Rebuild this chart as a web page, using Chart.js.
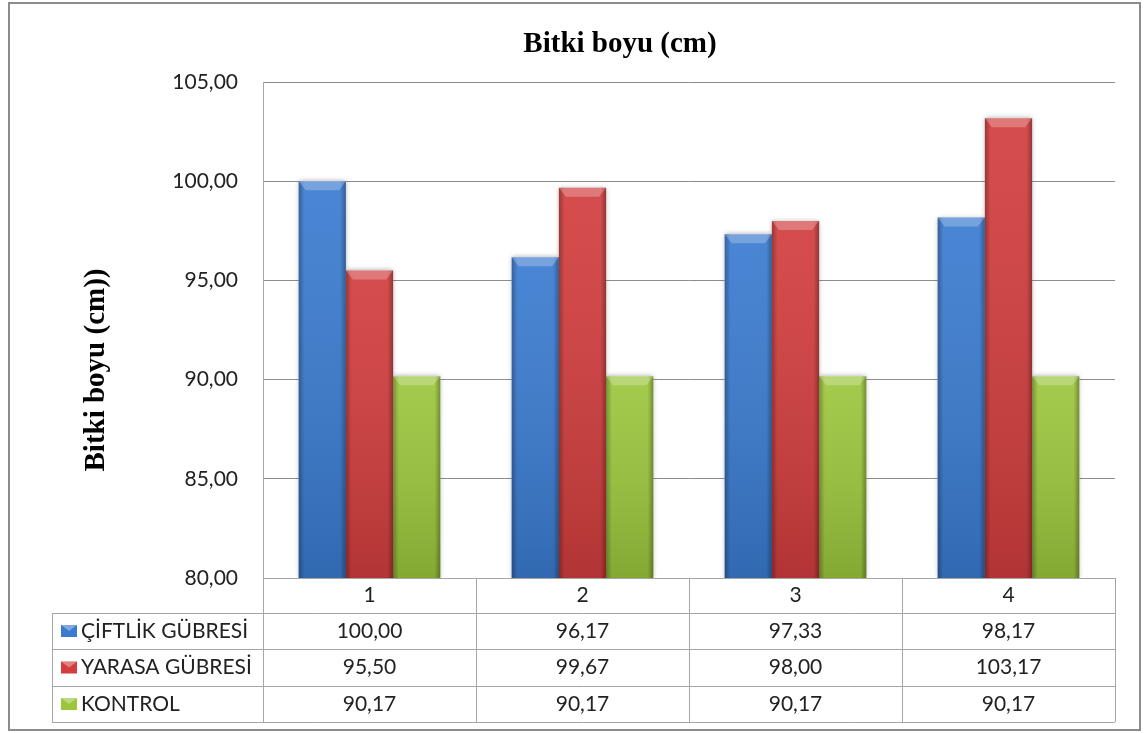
<!DOCTYPE html>
<html>
<head>
<meta charset="utf-8">
<script src="https://cdn.jsdelivr.net/npm/chart.js@4"></script>
<style>
  body { margin: 0; background: #fff; }
  #wrap { width: 1148px; height: 733px; }
</style>
</head>
<body>
<div id="wrap"><canvas id="myPlot" width="1148" height="733"></canvas></div>
<script>
const categories = ["1", "2", "3", "4"];
const seriesNames = ["ÇİFTLİK GÜBRESİ", "YARASA GÜBRESİ", "KONTROL"];
const ciftlik = [100.00, 96.17, 97.33, 98.17];
const yarasa = [95.50, 99.67, 98.00, 103.17];
const kontrol = [90.17, 90.17, 90.17, 90.17];
const yTicks = [80, 85, 90, 95, 100, 105];
const barColors = ["#3a7bd0", "#d23d3d", "#9bc63c"];

const chartTitle = "Bitki boyu (cm)";
const axisTitle = "Bitki boyu (cm))";

function fmt(v) {
  return v.toFixed(2).replace(".", ",");
}

function clipArea(ctx, area) {
  ctx.beginPath();
  ctx.rect(area.left - 10, area.top - 10, area.right - area.left + 20, area.bottom - area.top + 10);
  ctx.clip();
}

// bevel + shading on top of the flat bars
const bevelBars = {
  id: "bevelBars",
  beforeDatasetsDraw(chart) {
    const ctx = chart.ctx;
    const area = chart.chartArea;
    ctx.save();
    clipArea(ctx, area);
    chart.data.datasets.forEach((ds, i) => {
      chart.getDatasetMeta(i).data.forEach(bar => {
        const l = bar.x - bar.width / 2;
        const b = Math.min(bar.base, area.bottom);
        ctx.shadowColor = "rgba(0,0,0,0.35)";
        ctx.shadowBlur = 5;
        ctx.fillStyle = "#fff";
        ctx.fillRect(l, bar.y, bar.width, b - bar.y);
      });
    });
    ctx.restore();
  },
  afterDatasetsDraw(chart) {
    const ctx = chart.ctx;
    const area = chart.chartArea;
    ctx.save();
    clipArea(ctx, area);
    chart.data.datasets.forEach((ds, i) => {
      chart.getDatasetMeta(i).data.forEach(bar => {
        const l = bar.x - bar.width / 2;
        const r = bar.x + bar.width / 2;
        const t = bar.y;
        const b = Math.min(bar.base, area.bottom);
        let g = ctx.createLinearGradient(0, t, 0, b);
        g.addColorStop(0, "rgba(255,255,255,0.08)");
        g.addColorStop(1, "rgba(0,0,0,0.15)");
        ctx.fillStyle = g;
        ctx.fillRect(l, t, r - l, b - t);
        g = ctx.createLinearGradient(l, 0, r, 0);
        g.addColorStop(0, "rgba(0,0,0,0.28)");
        g.addColorStop(0.12, "rgba(0,0,0,0)");
        g.addColorStop(0.88, "rgba(0,0,0,0)");
        g.addColorStop(1, "rgba(0,0,0,0.30)");
        ctx.fillStyle = g;
        ctx.fillRect(l, t, r - l, b - t);
        // top bevel
        ctx.beginPath();
        ctx.moveTo(l, t);
        ctx.lineTo(r, t);
        ctx.lineTo(r - 7, t + 9);
        ctx.lineTo(l + 7, t + 9);
        ctx.closePath();
        ctx.fillStyle = "rgba(255,255,255,0.25)";
        ctx.fill();
      });
    });
    ctx.restore();
  }
};

// titles, frame and the data table under the plot
const frameAndTable = {
  id: "frameAndTable",
  afterDraw(chart) {
    const ctx = chart.ctx;
    const x = chart.scales.x;
    const area = chart.chartArea;
    ctx.save();

    ctx.strokeStyle = "#8c8c8c";
    ctx.lineWidth = 2;
    ctx.strokeRect(9, 3, 1131, 727);

    ctx.fillStyle = "#000";
    ctx.font = "bold 29px 'Liberation Serif'";
    ctx.textAlign = "center";
    ctx.textBaseline = "middle";
    ctx.fillText(chartTitle, 620, 45);

    ctx.save();
    ctx.translate(97, 370);
    ctx.rotate(-Math.PI / 2);
    ctx.fillText(axisTitle, 0, 0);
    ctx.restore();

    const colW = (x.right - x.left) / categories.length;
    const rowTop = [area.bottom, 613, 649, 686, 722];
    const tableLeft = 52;
    const series = [ciftlik, yarasa, kontrol];

    ctx.strokeStyle = "#a6a6a6";
    ctx.lineWidth = 1;
    ctx.beginPath();
    // horizontal lines
    ctx.moveTo(area.left, rowTop[0] + 0.5);
    ctx.lineTo(area.right, rowTop[0] + 0.5);
    for (let r = 1; r < rowTop.length; r++) {
      ctx.moveTo(tableLeft, rowTop[r] + 0.5);
      ctx.lineTo(area.right, rowTop[r] + 0.5);
    }
    // vertical lines
    ctx.moveTo(tableLeft + 0.5, rowTop[1]);
    ctx.lineTo(tableLeft + 0.5, rowTop[4]);
    for (let c = 0; c <= categories.length; c++) {
      const px = Math.round(x.left + c * colW) + 0.5;
      ctx.moveTo(px, rowTop[0]);
      ctx.lineTo(px, rowTop[4]);
    }
    ctx.stroke();

    ctx.fillStyle = "#222";
    ctx.font = "21px Lato";
    ctx.textAlign = "center";
    categories.forEach((c, i) => {
      ctx.fillText(c, x.getPixelForValue(i), (rowTop[0] + rowTop[1]) / 2);
    });
    series.forEach((vals, s) => {
      const cy = (rowTop[s + 1] + rowTop[s + 2]) / 2;
      vals.forEach((v, i) => {
        ctx.fillStyle = "#222";
        ctx.textAlign = "center";
        ctx.fillText(fmt(v), x.getPixelForValue(i), cy);
      });
      // legend key
      const kx = 61, ky = cy - 6, kw = 16, kh = 12;
      ctx.fillStyle = barColors[s];
      ctx.fillRect(kx, ky, kw, kh);
      ctx.beginPath();
      ctx.moveTo(kx, ky);
      ctx.lineTo(kx + kw, ky);
      ctx.lineTo(kx + kw / 2, ky + kh / 2);
      ctx.closePath();
      ctx.fillStyle = "rgba(255,255,255,0.35)";
      ctx.fill();
      ctx.fillStyle = "#222";
      ctx.textAlign = "left";
      ctx.fillText(seriesNames[s], 81, cy);
    });
    ctx.restore();
  }
};

new Chart("myPlot", {
  type: "bar",
  data: {
    labels: categories,
    datasets: [
      { label: seriesNames[0], data: ciftlik, backgroundColor: barColors[0] },
      { label: seriesNames[1], data: yarasa, backgroundColor: barColors[1] },
      { label: seriesNames[2], data: kontrol, backgroundColor: barColors[2] }
    ]
  },
  options: {
    responsive: false,
    animation: false,
    layout: { padding: { left: 0, right: 33, top: 82, bottom: 155 } },
    datasets: { bar: { categoryPercentage: 0.665, barPercentage: 1 } },
    plugins: {
      legend: { display: false },
      title: { display: false },
      tooltip: { enabled: false }
    },
    scales: {
      x: { display: false, offset: true },
      y: {
        min: 80,
        max: 105,
        afterBuildTicks(scale) {
          scale.ticks = yTicks.map(v => ({ value: v }));
        },
        afterFit(scale) { scale.width = 263; },
        border: { display: true, color: "#a6a6a6" },
        grid: { color: "#8c8c8c", drawTicks: false },
        ticks: {
          padding: 25,
          color: "#222",
          font: { family: "Lato", size: 21 },
          callback: v => fmt(v)
        }
      }
    }
  },
  plugins: [bevelBars, frameAndTable]
});
</script>
</body>
</html>
